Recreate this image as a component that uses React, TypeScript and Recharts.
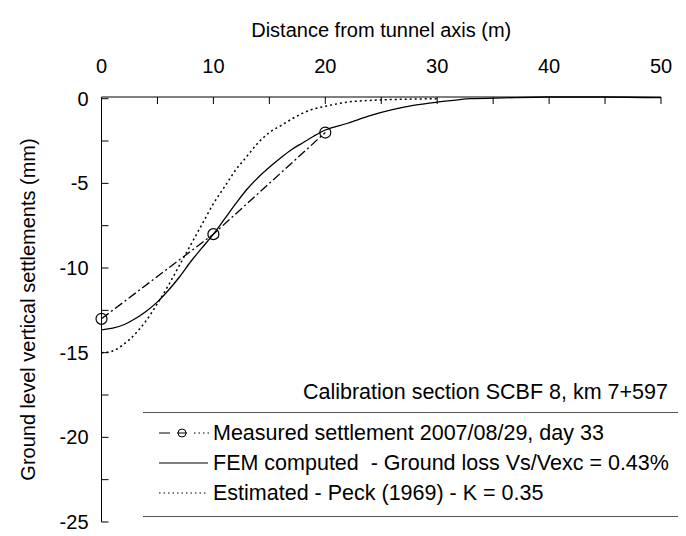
import React from 'react';
import { LineChart, Line, XAxis, YAxis, Legend } from 'recharts';

const xTicks = [0, 5, 10, 15, 20, 25, 30, 35, 40, 45, 50];
const xLabelTicks = [0, 10, 20, 30, 40, 50];
const yTicks = [-25, -22.5, -20, -17.5, -15, -12.5, -10, -7.5, -5, -2.5, 0];
const yLabelTicks = [-25, -20, -15, -10, -5, 0];

const measured = [
  { x: 0, y: -13 },
  { x: 10, y: -8 },
  { x: 20, y: -2 },
];

const femX = [0, 1, 2, 3, 4, 5, 6, 7, 8, 9, 10, 11, 12, 13, 14, 15, 16, 17, 18, 19, 20, 22, 24, 26, 28, 30, 32, 33, 36, 40, 45, 50];
const femY = [-13.65, -13.55, -13.35, -13.0, -12.55, -12.0, -11.3, -10.5, -9.6, -8.8, -8.0, -7.1, -6.2, -5.35, -4.65, -4.05, -3.5, -3.0, -2.6, -2.2, -1.85, -1.45, -1.0, -0.65, -0.38, -0.2, -0.05, 0, 0.05, 0.1, 0.1, 0.06];

const peckX = [0, 1, 2, 3, 4, 5, 6, 7, 8, 9, 10, 11, 12, 13, 14, 15, 16, 17, 18, 19, 20, 22, 24, 26, 28, 30];
const peckY = [-15, -14.9, -14.5, -13.9, -13.1, -12.1, -11.0, -9.8, -8.6, -7.4, -6.2, -5.2, -4.2, -3.4, -2.6, -2.0, -1.6, -1.2, -0.85, -0.6, -0.45, -0.2, -0.1, -0.05, -0.02, 0];

const femData = femX.map((x, i) => ({ x, y: femY[i] }));
const peckData = peckX.map((x, i) => ({ x, y: peckY[i] }));

const legendTitle = 'Calibration section SCBF 8, km 7+597';
const seriesNames = [
  'Measured settlement 2007/08/29, day 33',
  'FEM computed  - Ground loss Vs/Vexc = 0.43%',
  'Estimated - Peck (1969) - K = 0.35',
];

const FONT = '"Liberation Sans", Arial, sans-serif';
const FS = 20;
const LFS = 21.5;

const XTick = (props: any) => {
  const { x, y, payload } = props;
  const show = xLabelTicks.includes(payload.value);
  return (
    <g>
      <line x1={x} y1={y} x2={x} y2={y + 7} stroke="#000" strokeWidth={1} />
      {show && (
        <text x={x} y={y - 24} textAnchor="middle" fontFamily={FONT} fontSize={FS} fill="#000">
          {payload.value}
        </text>
      )}
    </g>
  );
};

const YTick = (props: any) => {
  const { x, y, payload } = props;
  const show = yLabelTicks.includes(payload.value);
  return (
    <g>
      <line x1={x} y1={y} x2={x + 7} y2={y} stroke="#000" strokeWidth={1} />
      {show && (
        <text x={x - 13} y={y} dy="0.35em" textAnchor="end" fontFamily={FONT} fontSize={FS} fill="#000">
          {payload.value}
        </text>
      )}
    </g>
  );
};

const MeasuredDot = (props: any) => {
  const { cx, cy, index } = props;
  if (cx == null || cy == null) return <g key={index} />;
  return <circle key={index} cx={cx} cy={cy} r={5.5} fill="none" stroke="#000" strokeWidth={1.2} />;
};

const LegendContent = () => {
  const rowStyle: React.CSSProperties = {
    display: 'flex',
    alignItems: 'center',
    height: 30,
    fontFamily: FONT,
    fontSize: LFS,
    color: '#000',
    whiteSpace: 'pre',
  };
  const icon = (i: number) => (
    <svg width={52} height={14} style={{ marginLeft: 16, marginRight: 2 }}>
      {i === 0 && (
        <g>
          <line x1={0} y1={7} x2={11} y2={7} stroke="#000" strokeWidth={1} />
          <circle cx={23} cy={7} r={4} fill="none" stroke="#000" strokeWidth={1} />
          <line x1={18} y1={7} x2={28} y2={7} stroke="#000" strokeWidth={1} />
          <line x1={35} y1={7} x2={50} y2={7} stroke="#000" strokeWidth={1.2} strokeDasharray="1.5 3" />
        </g>
      )}
      {i === 1 && <line x1={0} y1={7} x2={49} y2={7} stroke="#000" strokeWidth={1.2} />}
      {i === 2 && <line x1={0} y1={7} x2={49} y2={7} stroke="#000" strokeWidth={1.2} strokeDasharray="1.5 3" />}
    </svg>
  );
  return (
    <div style={{ width: 535, position: 'relative' }}>
      <div
        style={{
          position: 'absolute',
          right: 10,
          top: -32,
          fontFamily: FONT,
          fontSize: LFS,
          color: '#000',
          whiteSpace: 'pre',
        }}
      >
        {legendTitle}
      </div>
      <div style={{ borderTop: '1.5px solid #555', paddingTop: 5, paddingBottom: 8, borderBottom: '1.5px solid #555' }}>
        {seriesNames.map((n, i) => (
          <div key={n} style={rowStyle}>
            {icon(i)}
            <span>{n}</span>
          </div>
        ))}
      </div>
    </div>
  );
};

export default function App() {
  return (
    <LineChart width={678} height={528} margin={{ top: 49, right: 25, bottom: 14, left: 13.5 }}>
      <XAxis
        xAxisId="x"
        dataKey="x"
        type="number"
        orientation="top"
        domain={[0, 50]}
        ticks={xTicks}
        interval={0}
        height={40}
        tickSize={0}
        tickMargin={0}
        tick={<XTick />}
        axisLine={{ stroke: '#000', strokeWidth: 1 }}
        label={{
          value: 'Distance from tunnel axis (m)',
          position: 'top',
          offset: 0,
          content: (p: any) => {
            const vb = p.viewBox || {};
            return (
              <text x={vb.x + vb.width / 2} y={29} textAnchor="middle" fontFamily={FONT} fontSize={FS} fill="#000">
                Distance from tunnel axis (m)
              </text>
            );
          },
        }}
      />
      <YAxis
        yAxisId="y"
        dataKey="y"
        type="number"
        domain={[-25, 0]}
        ticks={yTicks}
        interval={0}
        width={80}
        tickSize={0}
        tickMargin={0}
        tick={<YTick />}
        axisLine={{ stroke: '#000', strokeWidth: 1 }}
        label={{
          value: 'Ground level vertical settlements (mm)',
          position: 'insideLeft',
          content: (p: any) => {
            const vb = p.viewBox || {};
            const cy = vb.y + vb.height / 2;
            return (
              <text
                x={20}
                y={cy}
                transform={`rotate(-90 20 ${cy})`}
                textAnchor="middle"
                dy="0.35em"
                fontFamily={FONT}
                fontSize={FS}
                fill="#000"
              >
                Ground level vertical settlements (mm)
              </text>
            );
          },
        }}
      />
      <Line
        xAxisId="x"
        yAxisId="y"
        data={peckData}
        dataKey="y"
        type="monotone"
        stroke="#000"
        strokeWidth={1.5}
        strokeDasharray="2 3"
        dot={false}
        isAnimationActive={false}
      />
      <Line
        xAxisId="x"
        yAxisId="y"
        data={femData}
        dataKey="y"
        type="monotone"
        stroke="#000"
        strokeWidth={1.3}
        dot={false}
        isAnimationActive={false}
      />
      <Line
        xAxisId="x"
        yAxisId="y"
        data={measured}
        dataKey="y"
        type="linear"
        stroke="#000"
        strokeWidth={1.3}
        strokeDasharray="9 3 2 3"
        dot={<MeasuredDot />}
        isAnimationActive={false}
      />
      <Legend
        verticalAlign="middle"
        align="center"
        layout="horizontal"
        content={<LegendContent />}
        wrapperStyle={{ position: 'absolute', left: 135, top: 404, width: 535, height: 110 }}
      />
    </LineChart>
  );
}
